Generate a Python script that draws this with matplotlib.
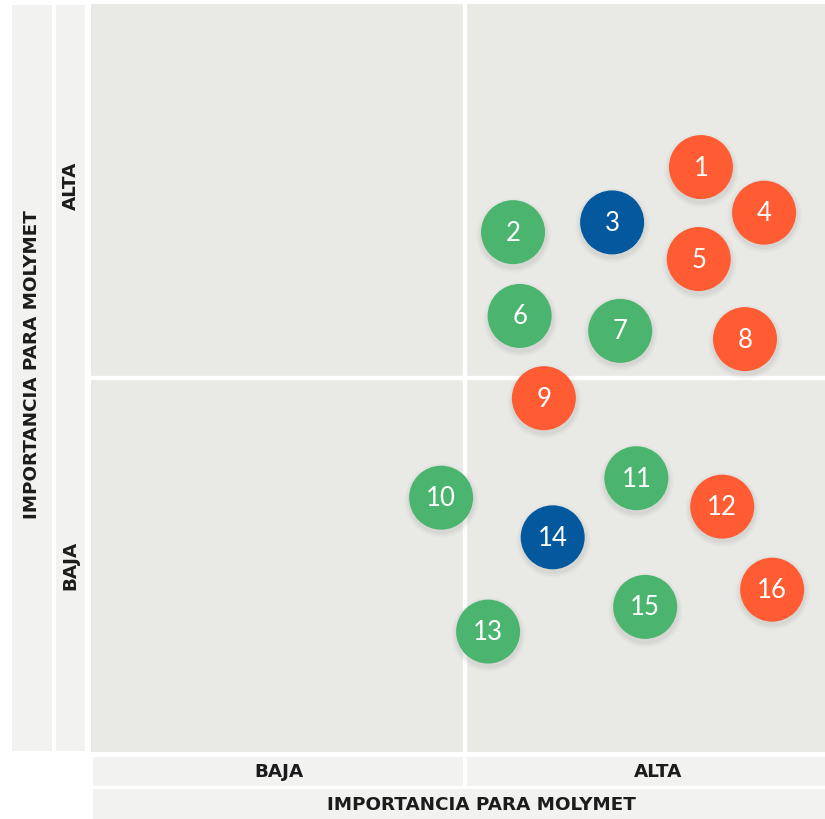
import matplotlib
matplotlib.use("Agg")
import matplotlib.pyplot as plt

W, H = 825, 820

# issue positions on a 0-100 grid (x: importancia externa, y: importancia para Molymet)
ids = [1, 2, 3, 4, 5, 6, 7, 8, 9, 10, 11, 12, 13, 14, 15, 16]
x_vals = [83.1, 57.5, 71.0, 91.7, 82.8, 58.4, 72.1, 89.1, 61.7, 47.7, 74.3, 86.0, 54.1, 62.9, 75.5, 92.8]
y_vals = [78.2, 69.5, 70.8, 72.1, 65.9, 58.3, 56.3, 55.2, 47.3, 34.0, 36.6, 32.8, 16.1, 28.7, 19.4, 21.7]
groups = ["o", "g", "b", "o", "o", "g", "g", "o", "o", "g", "g", "o", "g", "b", "g", "o"]
group_colors = {"o": "#FF5C33", "g": "#4BB570", "b": "#03589E"}

x_split, y_split = 51, 50
x_labels = ["BAJA", "ALTA"]
y_labels = ["BAJA", "ALTA"]
axis_title = "IMPORTANCIA PARA MOLYMET"

STRIP = "#F2F2F1"
PLOT_BG = "#E9EAE6"
TXT = "#1C1C1C"
LABEL_FONT = ["DejaVu Sans"]
NUM_FONT = ["Lato", "DejaVu Sans"]
LABEL_SIZE = 13.2


def rect(x0, y0, x1, y1):
    # pixel box (top-left origin) -> figure fraction
    return [x0 / W, 1 - y1 / H, (x1 - x0) / W, (y1 - y0) / H]


def strip(x0, y0, x1, y1):
    ax = fig.add_axes(rect(x0, y0, x1, y1))
    ax.set_facecolor(STRIP)
    ax.set_xticks([])
    ax.set_yticks([])
    for s in ax.spines.values():
        s.set_visible(False)
    return ax


def label(ax, x, y, s, rot=0):
    ax.text(x, y, s, rotation=rot, ha="center", va="center", fontsize=LABEL_SIZE,
            fontweight="bold", color=TXT, family=LABEL_FONT, transform=ax.transAxes)


fig = plt.figure(figsize=(W / 100, H / 100), dpi=100)

ax = fig.add_axes(rect(91, 5, 825, 753))
ax.set_facecolor(PLOT_BG)
ax.set_xlim(0, 100)
ax.set_ylim(0, 100)
ax.set_xticks([])
ax.set_yticks([])
for s in ax.spines.values():
    s.set_visible(False)
ax.axvline(x_split, color="white", lw=3.2, zorder=1)
ax.axhline(y_split, color="white", lw=3.2, zorder=1)

# soft drop shadow under each bubble
for grow, a in [(1.35, 0.04), (1.22, 0.05), (1.1, 0.07)]:
    ax.scatter(x_vals, [v - 0.35 for v in y_vals], s=2123 * grow, color="#7a7a70",
               alpha=a, lw=0, zorder=2)

cols = [group_colors[g] for g in groups]
ax.scatter(x_vals, y_vals, s=2123, c=cols, lw=0, zorder=3)
for i, xv, yv in zip(ids, x_vals, y_vals):
    ax.text(xv, yv, str(i), color="white", fontsize=18.5, ha="center", va="center",
            family=NUM_FONT, zorder=4)

# left strips
outer = strip(12, 6, 52, 752)
label(outer, 0.5, 1 - (365 - 6) / 746, axis_title, rot=90)
inner = strip(56, 6, 85, 752)
label(inner, 0.5, 1 - (186 - 6) / 746, y_labels[1], rot=90)
label(inner, 0.5, 1 - (565 - 6) / 746, y_labels[0], rot=90)

# bottom strips
b1 = strip(93, 758, 463, 787)
label(b1, (279 - 93) / 370, 0.5, x_labels[0])
b2 = strip(467, 758, 825, 787)
label(b2, (658 - 467) / 358, 0.5, x_labels[1])
b3 = strip(93, 790, 825, 820)
label(b3, (481 - 93) / 732, 0.5, axis_title)

fig.savefig("out.png", dpi=100)
